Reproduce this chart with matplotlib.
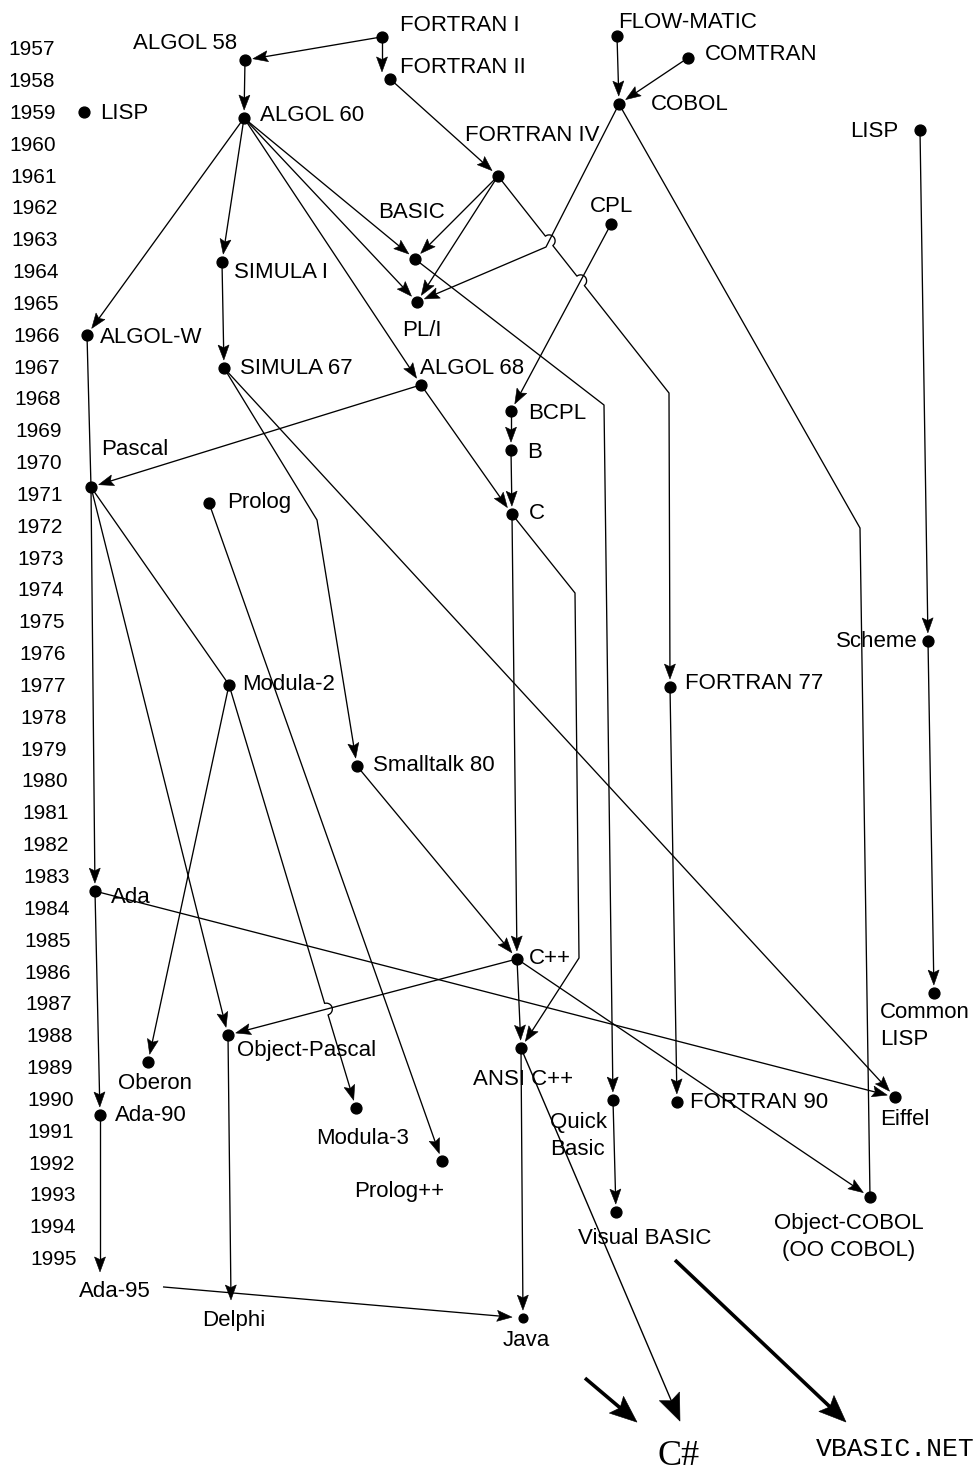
import numpy as np
import matplotlib
matplotlib.use("Agg")
import matplotlib.pyplot as plt
from matplotlib.patches import Polygon

# ---------------- data ----------------
ids = ["FORTRAN I", "FORTRAN II", "ALGOL 58", "ALGOL 60", "LISP59", "FLOW-MATIC",
       "COMTRAN", "COBOL", "LISP", "FORTRAN IV", "BASIC", "CPL", "PL/I", "SIMULA I",
       "ALGOL-W", "SIMULA 67", "ALGOL 68", "BCPL", "B", "Pascal", "Prolog", "C",
       "Scheme", "Modula-2", "FORTRAN 77", "Smalltalk 80", "Ada", "C++", "Common LISP",
       "Object-Pascal", "ANSI C++", "Oberon", "Eiffel", "FORTRAN 90", "Quick Basic",
       "Modula-3", "Ada-90", "Prolog++", "Object-COBOL", "Visual BASIC", "Ada-95",
       "Delphi", "Java", "C#", "VBASIC.NET"]
texts = ["FORTRAN I", "FORTRAN II", "ALGOL 58", "ALGOL 60", "LISP", "FLOW-MATIC",
         "COMTRAN", "COBOL", "LISP", "FORTRAN IV", "BASIC", "CPL", "PL/I", "SIMULA I",
         "ALGOL-W", "SIMULA 67", "ALGOL 68", "BCPL", "B", "Pascal", "Prolog", "C",
         "Scheme", "Modula-2", "FORTRAN 77", "Smalltalk 80", "Ada", "C++", "Common\nLISP",
         "Object-Pascal", "ANSI C++", "Oberon", "Eiffel", "FORTRAN 90", "Quick\nBasic",
         "Modula-3", "Ada-90", "Prolog++", "Object-COBOL\n(OO COBOL)", "Visual BASIC", "Ada-95",
         "Delphi", "Java", "C#", "VBASIC.NET"]
years = [1956.65, 1957.97, 1957.38, 1959.20, 1959.00, 1956.62,
         1957.31, 1958.76, 1959.58, 1961.02, 1963.63, 1962.53, 1964.98, 1963.72,
         1966.01, 1967.05, 1967.58, 1968.40, 1969.63, 1970.79, 1971.29, 1971.64,
         1975.62, 1977.00, 1977.07, 1979.55, 1983.48, 1985.61, 1986.68,
         1988.00, 1988.41, 1988.85, 1989.95, 1990.10, 1990.04,
         1990.29, 1990.51, 1991.96, 1993.09, 1993.56, 1995.44,
         1996.32, 1996.89, 2001.10, 2000.94]
columns = [382, 390, 245, 244, 84, 617,
           688, 619, 920, 498, 415, 611, 417, 222,
           87, 224, 421, 511, 511, 91, 209, 512,
           928, 229, 670, 357, 95, 517, 934,
           228, 521, 148, 895, 677, 613,
           356, 100, 442, 870, 616, 100,
           231, 523, 679, 895]
year_ticks = list(range(1957, 1996))

edges = [
    ("FORTRAN I", "ALGOL 58"), ("FORTRAN I", "FORTRAN II"), ("FORTRAN II", "FORTRAN IV"),
    ("ALGOL 58", "ALGOL 60"), ("FLOW-MATIC", "COBOL"), ("COMTRAN", "COBOL"),
    ("ALGOL 60", "ALGOL-W"), ("ALGOL 60", "SIMULA I"), ("ALGOL 60", "BASIC"),
    ("ALGOL 60", "PL/I"), ("ALGOL 60", "ALGOL 68"), ("FORTRAN IV", "BASIC"),
    ("FORTRAN IV", "PL/I"), ("COBOL", "PL/I"), ("FORTRAN IV", "FORTRAN 77"),
    ("COBOL", "Object-COBOL"), ("LISP", "Scheme"), ("Scheme", "Common LISP"),
    ("CPL", "BCPL"), ("BCPL", "B"), ("B", "C"), ("ALGOL 68", "C"), ("ALGOL 68", "Pascal"),
    ("ALGOL-W", "Pascal"), ("SIMULA I", "SIMULA 67"), ("SIMULA 67", "Smalltalk 80"),
    ("SIMULA 67", "Eiffel"), ("BASIC", "Quick Basic"), ("Quick Basic", "Visual BASIC"),
    ("Pascal", "Ada"), ("Pascal", "Modula-2"), ("Pascal", "Object-Pascal"),
    ("Modula-2", "Oberon"), ("Modula-2", "Modula-3"), ("Prolog", "Prolog++"),
    ("C", "C++"), ("C", "ANSI C++"), ("Smalltalk 80", "C++"), ("C++", "ANSI C++"),
    ("C++", "Object-Pascal"), ("C++", "Object-COBOL"), ("Ada", "Eiffel"),
    ("Ada", "Ada-90"), ("Ada-90", "Ada-95"), ("Object-Pascal", "Delphi"),
    ("Ada-95", "Java"), ("ANSI C++", "Java"), ("FORTRAN 77", "FORTRAN 90"),
    ("ANSI C++", "C#"), ("Java", "C#"), ("Visual BASIC", "VBASIC.NET"),
]
plain_edges = {("COBOL", "Object-COBOL"), ("ALGOL-W", "Pascal"), ("Pascal", "Modula-2")}
no_dot = {"Ada-95", "Delphi", "C#", "VBASIC.NET"}

# ---------------- layout (pixels) ----------------
W, H = 978, 1470
Y57, PPY = 48.0, 31.84


def yr2px(y):
    return Y57 + (y - 1957) * PPY


def px2yr(p):
    return 1957 + (p - Y57) / PPY


routes = {
    ("COBOL", "PL/I"): [(546, 247)],
    ("FORTRAN IV", "FORTRAN 77"): [(669, 393)],
    ("COBOL", "Object-COBOL"): [(860, 528)],
    ("SIMULA 67", "Smalltalk 80"): [(317, 520)],
    ("BASIC", "Quick Basic"): [(604, 405)],
    ("C", "ANSI C++"): [(575, 593), (579, 958)],
}
special = {
    ("FORTRAN I", "FORTRAN II"): dict(end_off=(-8, -7)),
    ("ANSI C++", "C#"): dict(end_off=(1, -31), head="big", lw=1.0),
    ("Java", "C#"): dict(start_off=(62, 60), end_off=(-42, -30), head="big", lw=2.6),
    ("Visual BASIC", "VBASIC.NET"): dict(start_off=(59, 48), end_off=(-49, -25), head="big", lw=2.6),
    ("Ada-95", "Java"): dict(start_off=(63, 15), shrink=11),
}
humps = {
    ("FORTRAN IV", "FORTRAN 77"): [("COBOL", "PL/I"), ("CPL", "BCPL")],
    ("Modula-2", "Modula-3"): [("C++", "Object-Pascal")],
}
label_pos = {  # dx, dy (to first-line cap centre), alignment
    "FORTRAN I": (18, -14, "left"), "FORTRAN II": (10, -14, "left"),
    "ALGOL 58": (-8, -19, "right"), "ALGOL 60": (16, -5, "left"),
    "LISP59": (16, 0, "left"), "FLOW-MATIC": (1, -16, "left"),
    "COMTRAN": (17, -6, "left"), "COBOL": (32, -2, "left"),
    "LISP": (-22, -1, "right"), "FORTRAN IV": (-33, -43, "left"),
    "BASIC": (-37, -49, "left"), "CPL": (-21, -20, "left"),
    "PL/I": (-15, 26, "left"), "SIMULA I": (12, 8, "left"),
    "ALGOL-W": (13, 0, "left"), "SIMULA 67": (16, -2, "left"),
    "ALGOL 68": (-1, -19, "left"), "BCPL": (17, 0, "left"), "B": (16, 0, "left"),
    "Pascal": (10, -40, "left"), "Prolog": (18, -3, "left"), "C": (17, -3, "left"),
    "Scheme": (-10, -2, "right"), "Modula-2": (13, -2, "left"),
    "FORTRAN 77": (15, -6, "left"), "Smalltalk 80": (16, -3, "left"),
    "Ada": (16, 4, "left"), "C++": (12, -3, "left"), "Common LISP": (-54, 17, "left"),
    "Object-Pascal": (9, 13, "left"), "ANSI C++": (-48, 29, "left"),
    "Oberon": (-30, 19, "left"), "Eiffel": (-15, 20, "left"),
    "FORTRAN 90": (13, -2, "left"), "Quick Basic": (-63, 20, "left"),
    "Modula-3": (-40, 28, "left"), "Ada-90": (15, -2, "left"),
    "Prolog++": (-88, 28, "left"), "Object-COBOL": (-21, 24, "center"),
    "Visual BASIC": (-38, 24, "left"), "Ada-95": (-21, 17, "left"),
    "Delphi": (-29, 18, "left"), "Java": (-20, 20, "left"),
}

SANS = ["Liberation Sans", "DejaVu Sans"]

fig = plt.figure(figsize=(W / 100, H / 100), dpi=100)
ax = fig.add_axes([0, 0, 1, 1])
ax.set_xlim(0, W)
ax.set_ylim(px2yr(H), px2yr(0))
ax.axis("off")


def P(name):
    i = ids.index(name)
    return np.array([columns[i], yr2px(years[i])], float)


def route_pts(e):
    sp = special.get(e, {})
    a = P(e[0]) + np.array(sp.get("start_off", (0, 0)), float)
    b = P(e[1]) + np.array(sp.get("end_off", (0, 0)), float)
    return [a] + [np.array(m, float) for m in routes.get(e, [])] + [b]


def seg_t(p1, p2, q1, q2):
    d1, d2 = p2 - p1, q2 - q1
    den = d1[0] * d2[1] - d1[1] * d2[0]
    if abs(den) < 1e-9:
        return None
    w = q1 - p1
    t = (w[0] * d2[1] - w[1] * d2[0]) / den
    u = (w[0] * d1[1] - w[1] * d1[0]) / den
    if 0 < t < 1 and 0 < u < 1:
        return t
    return None


def add_humps(pts, crossers, r=6.0):
    out = [pts[0]]
    for k in range(len(pts) - 1):
        p1, p2 = pts[k], pts[k + 1]
        ts = []
        for c in crossers:
            for j in range(len(c) - 1):
                t = seg_t(p1, p2, c[j], c[j + 1])
                if t is not None:
                    ts.append(t)
        d = p2 - p1
        u = d / np.hypot(*d)
        n = np.array([u[1], -u[0]])
        for t in sorted(ts):
            C = p1 + d * t
            for a in np.linspace(0, np.pi, 15):
                out.append(C + r * (-np.cos(a) * u + np.sin(a) * n))
        out.append(p2)
    return out


def to_data(pts):
    return [(p[0], px2yr(p[1])) for p in pts]


def draw_edge(e):
    sp = special.get(e, {})
    pts = route_pts(e)
    arrow = e not in plain_edges
    if "end_off" in sp:
        shrink = 0
    else:
        shrink = sp.get("shrink", 0 if e[1] in no_dot else 8)
    d = pts[-1] - pts[-2]
    u = d / np.hypot(*d)
    big = sp.get("head") == "big"
    hl, hw = (27, 11) if big else (15, 5.5)
    if arrow:
        tip = pts[-1] - u * shrink
        pts[-1] = tip - u * hl * 0.7
    if e in humps:
        pts = add_humps(pts, [route_pts(c) for c in humps[e]])
    xy = to_data(pts)
    ax.plot([p[0] for p in xy], [p[1] for p in xy], color="k",
            lw=sp.get("lw", 0.95), solid_capstyle="butt", zorder=2)
    if arrow:
        n = np.array([u[1], -u[0]])
        base = tip - u * hl
        head = [tip, base + n * hw, tip - u * hl * 0.82, base - n * hw]
        ax.add_patch(Polygon(to_data(head), closed=True, fc="k", ec="k",
                             lw=0.4, zorder=3))


for e in edges:
    draw_edge(e)

# dots
for i, name in enumerate(ids):
    if name in no_dot:
        continue
    ms = 6.3 if name == "Java" else 7.8
    ax.plot(columns[i], years[i], "o", ms=ms, color="k", zorder=4)


def put_text(x, yc, s, size, ha, family, dy_line=27):
    capoff = 0.344 * size * 100 / 72
    for k, line in enumerate(s.split("\n")):
        ax.text(x, px2yr(yc + capoff + k * dy_line), line, fontsize=size, ha=ha,
                va="baseline", family=family, color="k", zorder=5)


for i, name in enumerate(ids):
    p = P(name)
    if name == "C#":
        put_text(p[0], p[1], texts[i], 26, "center",
                 ["Liberation Serif", "DejaVu Serif"])
        continue
    if name == "VBASIC.NET":
        put_text(p[0], p[1], texts[i], 19, "center",
                 ["Liberation Mono", "DejaVu Sans Mono"])
        continue
    dx, dy, ha = label_pos[name]
    put_text(p[0] + dx, p[1] + dy, texts[i], 16, ha, SANS)

# year column
for y in year_ticks:
    put_text(8 + (y - 1957) * 0.58, yr2px(y), str(y), 15, "left", SANS)

fig.savefig("out.png", dpi=100)
